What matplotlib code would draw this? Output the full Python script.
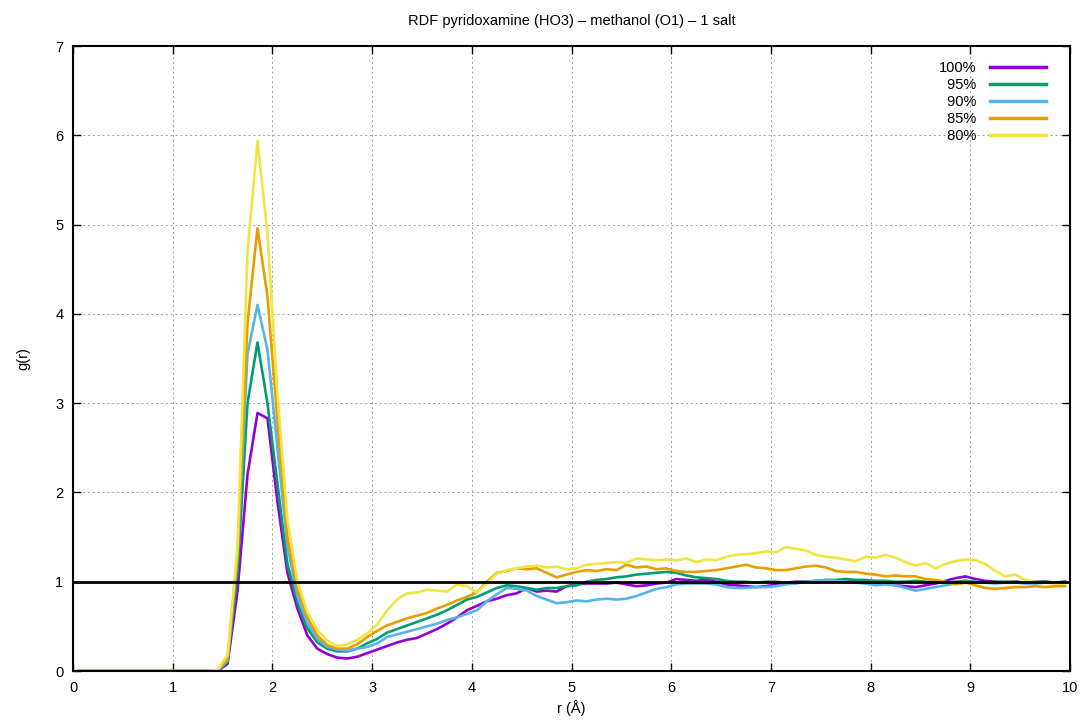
import numpy as np
import matplotlib
matplotlib.use("Agg")
import matplotlib.pyplot as plt

plt.rcParams['font.family'] = ['Liberation Sans', 'DejaVu Sans']

# radial bins (bin centres, 0.1 A wide)
r = np.round(np.arange(0.05, 10.0, 0.1), 2)

labels = ["100%", "95%", "90%", "85%", "80%"]
colors = ["#9400D3", "#009E73", "#56B4E9", "#E69F00", "#F0E442"]

g100 = [0, 0, 0, 0, 0, 0, 0, 0, 0, 0, 0, 0, 0, 0, 0,
        0.08, 0.9, 2.2, 2.89, 2.83, 1.9, 1.1, 0.7, 0.4, 0.25,
        0.19, 0.15, 0.14, 0.16, 0.2, 0.24, 0.28, 0.32, 0.35, 0.37,
        0.42, 0.47, 0.53, 0.6, 0.68, 0.73, 0.78, 0.81, 0.85, 0.87,
        0.93, 0.89, 0.9, 0.89, 0.95, 0.97, 0.98, 0.98, 0.98, 0.99,
        0.97, 0.95, 0.96, 0.98, 0.99, 1.03, 1.02, 1.01, 1.02, 1.0,
        0.97, 0.96, 0.95, 0.94, 0.95, 0.97, 0.99, 1.0, 1.0, 0.99,
        1.0, 1.0, 1.0, 1.01, 1.0, 0.99, 0.98, 0.96, 0.95, 0.94,
        0.96, 0.98, 1.01, 1.04, 1.06, 1.03, 1.01, 1.0, 0.99, 1.0,
        0.99, 1.0, 1.0, 0.99, 1.0]

g95 = [0, 0, 0, 0, 0, 0, 0, 0, 0, 0, 0, 0, 0, 0, 0,
       0.1, 1.1, 3.0, 3.68, 3.0, 2.1, 1.2, 0.77, 0.48, 0.32,
       0.25, 0.22, 0.22, 0.25, 0.31, 0.36, 0.43, 0.47, 0.51, 0.55,
       0.59, 0.63, 0.68, 0.74, 0.8, 0.83, 0.88, 0.93, 0.96, 0.95,
       0.93, 0.91, 0.93, 0.93, 0.95, 0.96, 1.0, 1.02, 1.03, 1.05,
       1.06, 1.08, 1.09, 1.1, 1.11, 1.1, 1.07, 1.05, 1.04, 1.03,
       1.01, 1.0, 1.0, 0.99, 1.0, 1.0, 0.99, 0.99, 1.0, 1.01,
       1.02, 1.02, 1.03, 1.02, 1.02, 1.01, 1.01, 1.0, 1.0, 1.01,
       1.0, 0.99, 0.99, 1.0, 1.01, 1.0, 0.99, 1.0, 1.0, 1.0,
       0.99, 1.0, 1.0, 0.99, 1.0]

g90 = [0, 0, 0, 0, 0, 0, 0, 0, 0, 0, 0, 0, 0, 0, 0,
       0.12, 1.3, 3.55, 4.1, 3.6, 2.5, 1.4, 0.84, 0.54, 0.36,
       0.27, 0.24, 0.23, 0.25, 0.27, 0.31, 0.38, 0.41, 0.44, 0.47,
       0.5, 0.53, 0.57, 0.6, 0.64, 0.68, 0.78, 0.86, 0.93, 0.92,
       0.9, 0.84, 0.8, 0.76, 0.77, 0.79, 0.78, 0.8, 0.81, 0.8,
       0.81, 0.84, 0.88, 0.92, 0.94, 0.97, 0.98, 0.98, 0.98, 0.97,
       0.94, 0.93, 0.93, 0.94, 0.94, 0.95, 0.97, 0.98, 1.0, 1.01,
       1.02, 1.01, 1.0, 0.99, 0.98, 0.96, 0.97, 0.96, 0.93, 0.9,
       0.92, 0.94, 0.96, 0.98, 0.99, 1.0, 0.99, 0.98, 0.99, 0.99,
       0.98, 0.98, 0.99, 0.99, 0.99]

g85 = [0, 0, 0, 0, 0, 0, 0, 0, 0, 0, 0, 0, 0, 0, 0,
       0.14, 1.3, 3.9, 4.96, 4.2, 2.8, 1.5, 0.92, 0.6, 0.4,
       0.29, 0.25, 0.25, 0.3, 0.38, 0.45, 0.51, 0.55, 0.59, 0.62,
       0.65, 0.7, 0.74, 0.79, 0.83, 0.88, 1.0, 1.1, 1.12, 1.15,
       1.14, 1.15, 1.1, 1.05, 1.08, 1.11, 1.13, 1.12, 1.14, 1.13,
       1.19, 1.16, 1.17, 1.14, 1.15, 1.12, 1.11, 1.11, 1.12, 1.13,
       1.15, 1.17, 1.19, 1.16, 1.15, 1.13, 1.13, 1.15, 1.17, 1.18,
       1.16, 1.12, 1.11, 1.11, 1.09, 1.08, 1.06, 1.07, 1.06, 1.06,
       1.03, 1.02, 1.0, 0.97, 0.99, 0.96, 0.93, 0.92, 0.93, 0.94,
       0.94, 0.95, 0.94, 0.95, 0.95]

g80 = [0, 0, 0, 0, 0, 0, 0, 0, 0, 0, 0, 0, 0, 0, 0.01,
       0.18, 1.4, 4.7, 5.94, 4.9, 3.1, 1.7, 1.0, 0.66, 0.46,
       0.34, 0.28, 0.3, 0.35, 0.42, 0.52, 0.68, 0.8, 0.87, 0.88,
       0.91, 0.9, 0.89, 0.97, 0.95, 0.88, 0.98, 1.09, 1.13, 1.15,
       1.17, 1.18, 1.16, 1.17, 1.14, 1.15, 1.19, 1.2, 1.21, 1.22,
       1.21, 1.26, 1.25, 1.24, 1.25, 1.24, 1.26, 1.22, 1.25, 1.24,
       1.28, 1.3, 1.31, 1.32, 1.34, 1.33, 1.39, 1.37, 1.35, 1.3,
       1.28, 1.27, 1.25, 1.23, 1.28, 1.27, 1.3, 1.27, 1.22, 1.18,
       1.21, 1.15, 1.2, 1.23, 1.25, 1.24, 1.2, 1.12, 1.06, 1.08,
       1.02, 1.0, 0.99, 0.98, 0.98]

series = [g100, g95, g90, g85, g80]

fig = plt.figure(figsize=(10.85, 7.27), dpi=100)
ax = fig.add_axes([0.0673, 0.077, 0.919, 0.8597])

for g, lab, col in zip(series, labels, colors):
    ax.plot(r, g, color=col, lw=1.9, label=lab)

ax.axhline(1.0, color="black", lw=2.0, zorder=5)

ax.set_xlim(0, 10)
ax.set_ylim(0, 7)
ax.set_xticks(np.arange(0, 11, 1))
ax.set_yticks(np.arange(0, 8, 1))
ax.grid(True, color="#a0a0a0", linestyle=(0, (2, 3)), lw=0.7)
ax.tick_params(direction="in", length=6, width=1, top=True, right=True,
               labelsize=10.5, pad=7)
for s in ax.spines.values():
    s.set_linewidth(1.5)

ax.set_title("RDF pyridoxamine (HO3) \u2013 methanol (O1) \u2013 1 salt",
             fontsize=10.5, pad=15)
ax.set_xlabel("r (Å)", fontsize=10.5, labelpad=4)
ax.set_ylabel("g(r)", fontsize=10.5, labelpad=18)

fs = "\u2007"
leg_labels = ["100%", fs + "95%", fs + "90%", fs + "85%", fs + "80%"]
handles = ax.get_lines()[:5]
leg = ax.legend(handles, leg_labels, loc="upper right", bbox_to_anchor=(0.985, 0.99),
                frameon=False, markerfirst=False, handlelength=3.9, handletextpad=0.9,
                labelspacing=0.2, fontsize=10.5, borderaxespad=0.2)
for line in leg.get_lines():
    line.set_linewidth(2.5)

fig.savefig("out.png", dpi=100)
